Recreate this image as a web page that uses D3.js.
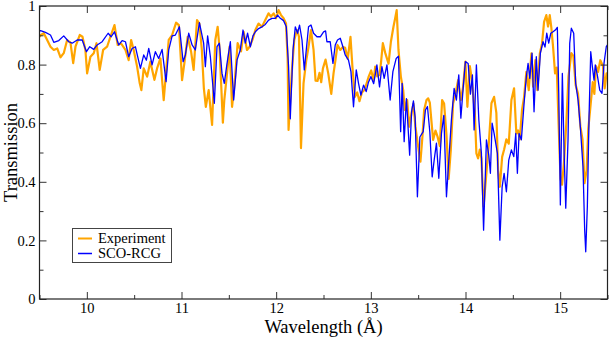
<!DOCTYPE html>
<html>
<head>
<meta charset="utf-8">
<script src="https://cdn.jsdelivr.net/npm/d3@7"></script>
<style>
  body { margin: 0; background: #fff; }
  text { font-family: "Liberation Serif", "Times New Roman", serif; fill: #000; }
</style>
</head>
<body>
<div id="chart"></div>
<script>
// Experiment (orange) - wavelength (Å) and transmission
const expWave = [9.500, 9.511, 9.545, 9.581, 9.616, 9.651, 9.687, 9.722, 9.756, 9.792, 9.827, 9.856, 9.880, 9.925, 9.954, 9.985,
  10.003, 10.038, 10.073, 10.102, 10.136, 10.172, 10.214, 10.249, 10.292, 10.326, 10.362, 10.408, 10.442, 10.468, 10.495, 10.531,
  10.559, 10.576, 10.601, 10.637, 10.671, 10.714, 10.742, 10.777, 10.812, 10.840, 10.865, 10.901, 10.943, 10.972,
  11.006, 11.030, 11.065, 11.101, 11.128, 11.164, 11.189, 11.215, 11.236, 11.257, 11.287, 11.323, 11.357, 11.382, 11.403, 11.437,
  11.452, 11.481, 11.508, 11.534, 11.561, 11.593, 11.629, 11.656, 11.692, 11.720, 11.755, 11.780, 11.814, 11.850, 11.885, 11.920,
  11.945, 11.973, 11.998, 12.026, 12.051, 12.078, 12.104, 12.121, 12.131, 12.167, 12.191, 12.220, 12.241, 12.262, 12.289, 12.318,
  12.342, 12.368, 12.395, 12.416, 12.437, 12.458, 12.476, 12.494, 12.522, 12.550, 12.582, 12.606, 12.627, 12.648, 12.677, 12.705,
  12.729, 12.756, 12.785, 12.806, 12.832, 12.856, 12.880, 12.906, 12.935, 12.975, 13.004, 13.030, 13.046, 13.067, 13.092, 13.109,
  13.127, 13.152, 13.187, 13.212, 13.239, 13.257, 13.273, 13.292, 13.317, 13.342, 13.359, 13.384, 13.405, 13.429, 13.450, 13.471,
  13.500, 13.524, 13.545, 13.563, 13.588, 13.606, 13.623, 13.642, 13.658, 13.683, 13.704, 13.729, 13.753, 13.774, 13.799, 13.822,
  13.845, 13.869, 13.894, 13.922, 13.951, 13.975, 13.999, 14.020, 14.046, 14.062, 14.080, 14.098, 14.115, 14.133, 14.151, 14.168,
  14.191, 14.221, 14.246, 14.274, 14.302, 14.326, 14.344, 14.363, 14.387, 14.408, 14.432, 14.457, 14.485, 14.513, 14.537, 14.555,
  14.573, 14.597, 14.619, 14.643, 14.668, 14.696, 14.714, 14.738, 14.759, 14.785, 14.809, 14.830, 14.854, 14.872, 14.890, 14.907,
  14.925, 14.946, 14.964, 14.983, 15.004, 15.020, 15.041, 15.065, 15.088, 15.118, 15.139, 15.164, 15.189, 15.213, 15.236, 15.257,
  15.280, 15.297, 15.323, 15.344, 15.361, 15.379, 15.400, 15.424, 15.452, 15.470, 15.490, 15.500];
const expTrans = [0.895, 0.900, 0.907, 0.884, 0.861, 0.850, 0.855, 0.825, 0.839, 0.884, 0.875, 0.805, 0.861, 0.901, 0.895, 0.850,
  0.770, 0.827, 0.839, 0.873, 0.782, 0.850, 0.861, 0.895, 0.935, 0.867, 0.872, 0.850, 0.815, 0.884, 0.850, 0.793,
  0.736, 0.713, 0.787, 0.759, 0.810, 0.748, 0.787, 0.821, 0.679, 0.787, 0.884, 0.901, 0.943, 0.935,
  0.747, 0.804, 0.895, 0.845, 0.782, 0.952, 0.940, 0.850, 0.720, 0.656, 0.713, 0.594, 0.884, 0.929, 0.850, 0.602,
  0.679, 0.770, 0.861, 0.656, 0.736, 0.873, 0.845, 0.912, 0.850, 0.861, 0.890, 0.918, 0.940, 0.929, 0.952, 0.975,
  0.964, 0.975, 0.958, 0.986, 0.969, 0.958, 0.940, 0.820, 0.577, 0.782, 0.884, 0.918, 0.895, 0.515, 0.736, 0.815,
  0.861, 0.918, 0.850, 0.745, 0.744, 0.772, 0.740, 0.787, 0.817, 0.770, 0.700, 0.770, 0.817, 0.867, 0.850, 0.860,
  0.857, 0.820, 0.895, 0.790, 0.690, 0.705, 0.675, 0.705, 0.715, 0.757, 0.780, 0.745, 0.793, 0.760, 0.765, 0.812,
  0.873, 0.840, 0.803, 0.878, 0.929, 0.958, 0.986, 0.850, 0.759, 0.713, 0.645, 0.679, 0.588, 0.633, 0.667, 0.588,
  0.520, 0.469, 0.554, 0.645, 0.679, 0.685, 0.670, 0.600, 0.543, 0.575, 0.555, 0.522, 0.679, 0.667, 0.560, 0.410,
  0.510, 0.667, 0.700, 0.747, 0.679, 0.725, 0.810, 0.656, 0.795, 0.760, 0.700, 0.640, 0.497, 0.480, 0.510, 0.480,
  0.315, 0.430, 0.530, 0.668, 0.690, 0.635, 0.441, 0.383, 0.485, 0.510, 0.545, 0.530, 0.679, 0.719, 0.565, 0.575,
  0.545, 0.645, 0.690, 0.775, 0.713, 0.838, 0.725, 0.815, 0.713, 0.838, 0.873, 0.946, 0.969, 0.930, 0.969, 0.925,
  0.861, 0.770, 0.790, 0.600, 0.410, 0.390, 0.470, 0.600, 0.760, 0.839, 0.830, 0.730, 0.700, 0.590, 0.545, 0.395,
  0.440, 0.580, 0.668, 0.740, 0.700, 0.795, 0.775, 0.815, 0.795, 0.719, 0.770, 0.770];

// SCO-RCG (blue) - wavelength (Å) and transmission
const rcgWave = [9.500, 9.511, 9.563, 9.616, 9.651, 9.704, 9.756, 9.809, 9.845, 9.898, 9.951, 9.996, 10.031, 10.073, 10.109, 10.162,
  10.225, 10.257, 10.292, 10.337, 10.373, 10.408, 10.442, 10.478, 10.513, 10.537, 10.566, 10.601, 10.629, 10.654, 10.689, 10.724,
  10.759, 10.795, 10.837, 10.865, 10.901, 10.935, 10.978, 11.017, 11.041, 11.076, 11.112, 11.146, 11.189, 11.234, 11.252, 11.276,
  11.305, 11.347, 11.375, 11.400, 11.428, 11.452, 11.481, 11.516, 11.551, 11.587, 11.621, 11.650, 11.674, 11.698, 11.727, 11.755,
  11.780, 11.814, 11.850, 11.885, 11.920, 11.956, 11.991, 12.015, 12.044, 12.078, 12.107, 12.131, 12.149, 12.178, 12.202, 12.226,
  12.247, 12.273, 12.297, 12.318, 12.342, 12.368, 12.395, 12.431, 12.466, 12.501, 12.522, 12.536, 12.571, 12.600, 12.624, 12.648,
  12.677, 12.705, 12.729, 12.764, 12.790, 12.817, 12.846, 12.870, 12.895, 12.923, 12.951, 12.975, 13.001, 13.030, 13.064, 13.092,
  13.117, 13.141, 13.170, 13.204, 13.233, 13.268, 13.292, 13.315, 13.331, 13.352, 13.376, 13.410, 13.431, 13.450, 13.468, 13.492,
  13.518, 13.553, 13.577, 13.598, 13.623, 13.648, 13.669, 13.693, 13.718, 13.746, 13.771, 13.799, 13.824, 13.851, 13.880, 13.904,
  13.929, 13.951, 13.975, 13.999, 14.028, 14.052, 14.073, 14.091, 14.115, 14.141, 14.168, 14.191, 14.221, 14.246, 14.263, 14.281,
  14.302, 14.337, 14.363, 14.387, 14.408, 14.432, 14.457, 14.485, 14.510, 14.531, 14.548, 14.566, 14.590, 14.619, 14.643, 14.661,
  14.679, 14.703, 14.724, 14.748, 14.766, 14.791, 14.819, 14.840, 14.858, 14.879, 14.901, 14.925, 14.949, 14.970, 14.985, 15.002,
  15.023, 15.041, 15.059, 15.083, 15.101, 15.118, 15.143, 15.164, 15.189, 15.213, 15.241, 15.259, 15.270, 15.287, 15.305, 15.323,
  15.340, 15.358, 15.371, 15.392, 15.418, 15.442, 15.463, 15.487, 15.500];
const rcgTrans = [0.915, 0.916, 0.910, 0.901, 0.876, 0.882, 0.898, 0.878, 0.873, 0.884, 0.884, 0.844, 0.861, 0.852, 0.867, 0.878,
  0.907, 0.895, 0.912, 0.867, 0.882, 0.878, 0.827, 0.855, 0.861, 0.827, 0.787, 0.833, 0.815, 0.855, 0.799, 0.844,
  0.821, 0.852, 0.742, 0.850, 0.898, 0.901, 0.929, 0.810, 0.833, 0.907, 0.867, 0.850, 0.943, 0.873, 0.793, 0.898,
  0.827, 0.668, 0.861, 0.873, 0.770, 0.736, 0.804, 0.878, 0.679, 0.816, 0.850, 0.918, 0.873, 0.907, 0.861, 0.898,
  0.912, 0.923, 0.929, 0.937, 0.952, 0.958, 0.958, 0.969, 0.958, 0.950, 0.929, 0.793, 0.615, 0.850, 0.929, 0.907,
  0.935, 0.884, 0.782, 0.850, 0.929, 0.935, 0.907, 0.895, 0.895, 0.912, 0.915, 0.878, 0.878, 0.804, 0.867, 0.884,
  0.890, 0.861, 0.833, 0.815, 0.776, 0.656, 0.782, 0.736, 0.696, 0.730, 0.708, 0.740, 0.759, 0.735, 0.799, 0.724,
  0.793, 0.753, 0.799, 0.679, 0.776, 0.821, 0.829, 0.571, 0.736, 0.537, 0.684, 0.491, 0.640, 0.676, 0.620, 0.349,
  0.553, 0.571, 0.645, 0.657, 0.571, 0.417, 0.474, 0.532, 0.412, 0.565, 0.627, 0.349, 0.474, 0.611, 0.719, 0.679,
  0.765, 0.617, 0.719, 0.810, 0.804, 0.699, 0.765, 0.577, 0.799, 0.611, 0.497, 0.235, 0.543, 0.491, 0.429, 0.600,
  0.565, 0.497, 0.201, 0.383, 0.429, 0.366, 0.474, 0.509, 0.486, 0.565, 0.429, 0.565, 0.543, 0.668, 0.759, 0.804,
  0.753, 0.839, 0.639, 0.827, 0.713, 0.839, 0.878, 0.860, 0.907, 0.873, 0.907, 0.912, 0.918, 0.927, 0.702, 0.321,
  0.770, 0.509, 0.310, 0.543, 0.873, 0.924, 0.907, 0.736, 0.679, 0.588, 0.452, 0.235, 0.161, 0.315, 0.622, 0.844,
  0.793, 0.747, 0.799, 0.765, 0.713, 0.702, 0.804, 0.861, 0.867];

// axis ticks
const xMajor = [10, 11, 12, 13, 14, 15];
const xMinor = [9.5, 10.5, 11.5, 12.5, 13.5, 14.5, 15.5];
const yMajor = [0, 0.2, 0.4, 0.6, 0.8, 1];
const yMinor = [0.1, 0.3, 0.5, 0.7, 0.9];

const seriesNames = ["Experiment", "SCO-RCG"];
const seriesColors = ["#ffa500", "#0000ff"];

// Define "SVG"
const svgWidth = 610;
const svgHeight = 341;
const plot = { left: 39.5, right: 607.5, top: 6, bottom: 299 };

const svg = d3.select("#chart")
  .append("svg")
  .attr("width", svgWidth)
  .attr("height", svgHeight);

svg.append("rect")
  .attr("width", svgWidth)
  .attr("height", svgHeight)
  .attr("fill", "#fff");

const xScale = d3.scaleLinear().domain([9.5, 15.5]).range([plot.left, plot.right]);
const yScale = d3.scaleLinear().domain([0, 1]).range([plot.bottom, plot.top]);

svg.append("clipPath")
  .attr("id", "clip")
  .append("rect")
  .attr("x", plot.left)
  .attr("y", plot.top)
  .attr("width", plot.right - plot.left)
  .attr("height", plot.bottom - plot.top);

// lines
const expData = expWave.map((w, i) => [w, expTrans[i]]);
const rcgData = rcgWave.map((w, i) => [w, rcgTrans[i]]);

const line = d3.line()
  .x(d => xScale(d[0]))
  .y(d => yScale(d[1]));

const lines = svg.append("g").attr("clip-path", "url(#clip)");

lines.append("path")
  .datum(expData)
  .attr("d", line)
  .attr("fill", "none")
  .attr("stroke", seriesColors[0])
  .attr("stroke-width", 2.2)
  .attr("stroke-linejoin", "round");

lines.append("path")
  .datum(rcgData)
  .attr("d", line)
  .attr("fill", "none")
  .attr("stroke", seriesColors[1])
  .attr("stroke-width", 1.3)
  .attr("stroke-linejoin", "round");

// axes (ticks point inward on all four sides)
const fmtY = d => (d === 0 || d === 1) ? String(d) : d3.format(".1f")(d);

function styleAxis(g) {
  g.select(".domain").remove();
  g.selectAll(".tick line").attr("stroke", "#333");
  g.selectAll(".tick text")
    .style("font-family", "'Liberation Serif', serif")
    .style("font-size", "14.5px")
    .attr("fill", "#000");
}

svg.append("g")
  .attr("transform", `translate(0, ${plot.bottom})`)
  .call(d3.axisBottom(xScale).tickValues(xMajor).tickSize(-7).tickPadding(4).tickFormat(d3.format("d")))
  .call(styleAxis);
svg.append("g")
  .attr("transform", `translate(0, ${plot.bottom})`)
  .call(d3.axisBottom(xScale).tickValues(xMinor).tickSize(-4).tickFormat(""))
  .call(styleAxis);
svg.append("g")
  .attr("transform", `translate(0, ${plot.top})`)
  .call(d3.axisTop(xScale).tickValues(xMajor).tickSize(-7).tickFormat(""))
  .call(styleAxis);
svg.append("g")
  .attr("transform", `translate(0, ${plot.top})`)
  .call(d3.axisTop(xScale).tickValues(xMinor).tickSize(-4).tickFormat(""))
  .call(styleAxis);

svg.append("g")
  .attr("transform", `translate(${plot.left}, 0)`)
  .call(d3.axisLeft(yScale).tickValues(yMajor).tickSize(-7).tickPadding(4).tickFormat(fmtY))
  .call(styleAxis);
svg.append("g")
  .attr("transform", `translate(${plot.left}, 0)`)
  .call(d3.axisLeft(yScale).tickValues(yMinor).tickSize(-4).tickFormat(""))
  .call(styleAxis);
svg.append("g")
  .attr("transform", `translate(${plot.right}, 0)`)
  .call(d3.axisRight(yScale).tickValues(yMajor).tickSize(-7).tickFormat(""))
  .call(styleAxis);
svg.append("g")
  .attr("transform", `translate(${plot.right}, 0)`)
  .call(d3.axisRight(yScale).tickValues(yMinor).tickSize(-4).tickFormat(""))
  .call(styleAxis);

// frame
svg.append("rect")
  .attr("x", plot.left)
  .attr("y", plot.top)
  .attr("width", plot.right - plot.left)
  .attr("height", plot.bottom - plot.top)
  .attr("fill", "none")
  .attr("stroke", "#222")
  .attr("stroke-width", 1.2);

// axis labels
svg.append("text")
  .attr("x", (plot.left + plot.right) / 2)
  .attr("y", 333)
  .attr("text-anchor", "middle")
  .style("font-size", "18.5px")
  .text("Wavelength (Å)");

svg.append("text")
  .attr("transform", `translate(17, ${(plot.top + plot.bottom) / 2}) rotate(-90)`)
  .attr("text-anchor", "middle")
  .style("font-size", "18.5px")
  .text("Transmission");

// legend
const legend = svg.append("g");
legend.append("rect")
  .attr("x", 72.5)
  .attr("y", 228.5)
  .attr("width", 99)
  .attr("height", 34)
  .attr("fill", "#fff")
  .attr("stroke", "#444")
  .attr("stroke-width", 1);

seriesNames.forEach((name, i) => {
  const yy = 238.5 + i * 15;
  legend.append("line")
    .attr("x1", 78).attr("x2", 92)
    .attr("y1", yy).attr("y2", yy)
    .attr("stroke", seriesColors[i])
    .attr("stroke-width", i === 0 ? 2 : 1.5);
  legend.append("text")
    .attr("x", 98)
    .attr("y", yy + 4.5)
    .style("font-size", "14.5px")
    .text(name);
});
</script>
</body>
</html>
